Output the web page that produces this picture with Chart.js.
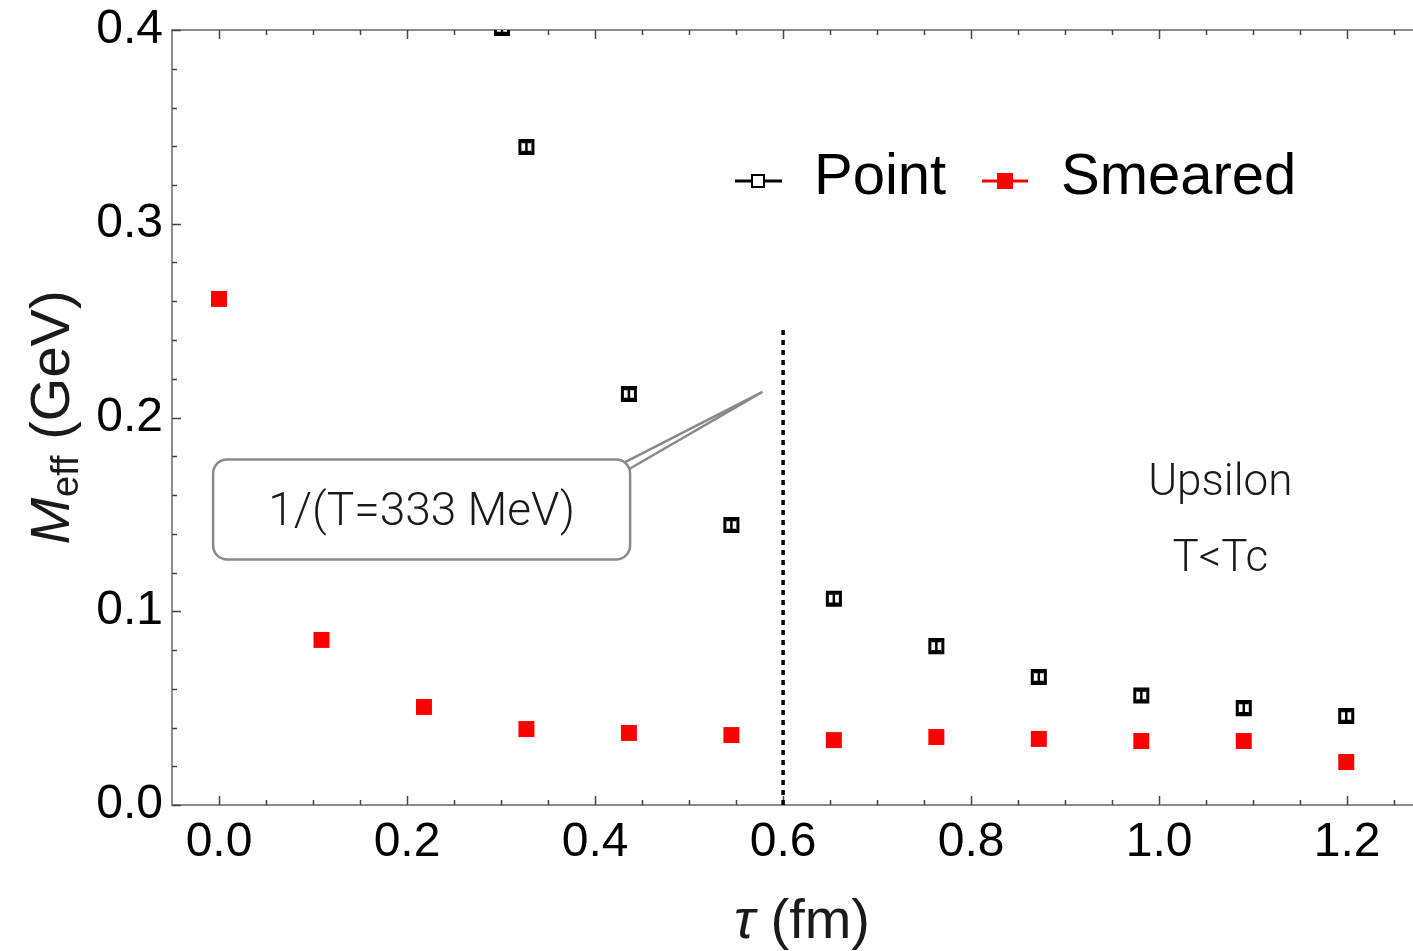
<!DOCTYPE html>
<html>
<head>
<meta charset="utf-8">
<title>Effective mass</title>
<script src="https://cdn.jsdelivr.net/npm/chart.js@4.4.1/dist/chart.umd.min.js"></script>
<style>
  html, body { margin: 0; padding: 0; background: #fff; }
  #chartSection { width: 1413px; height: 951px; }
</style>
</head>
<body>
<div id="chartSection">
  <canvas id="meffChart" width="1413" height="951"></canvas>
</div>
<script>
// Point-source correlator (open squares with error bars)
const pointTau = [0.301, 0.327, 0.436, 0.545, 0.654, 0.763, 0.872, 0.981, 1.090, 1.199];
const pointMeff = [0.401, 0.3396, 0.2121, 0.1445, 0.1065, 0.0820, 0.0661, 0.0565, 0.0500, 0.0459];
const pointErr = [0.0026, 0.0026, 0.0026, 0.0026, 0.0026, 0.0026, 0.0026, 0.0026, 0.0026, 0.0026];

// Smeared-source correlator (filled red squares)
const smearedTau = [0.000, 0.109, 0.218, 0.327, 0.436, 0.545, 0.654, 0.763, 0.872, 0.981, 1.090, 1.199];
const smearedMeff = [0.2612, 0.0852, 0.0506, 0.0392, 0.0372, 0.0361, 0.0335, 0.0351, 0.0341, 0.0330, 0.0330, 0.0222];

// 1/T marker
const inverseTemp = 0.6;
const markerTop = 0.247;

// Axis ticks
const xTickValues = [0.0, 0.2, 0.4, 0.6, 0.8, 1.0, 1.2];
const yTickValues = [0.0, 0.1, 0.2, 0.3, 0.4];
const xMinorStep = 0.05;
const yMinorStep = 0.02;

const FONT = '"Liberation Sans", Arial, Helvetica, sans-serif';
const LIGHT_FONT = 'Roboto, "Liberation Sans", Arial, sans-serif';
const FRAME_COLOR = '#8c8c8c';
const TICK_COLOR = '#444';
const RED = '#ff0000';

// Frame on left/top/bottom with inward major and minor ticks
const frameTicks = {
    id: 'frameTicks',
    beforeDatasetsDraw(chart) {
        const { ctx, chartArea: a, scales: { x, y } } = chart;
        ctx.save();
        ctx.strokeStyle = FRAME_COLOR;
        ctx.lineWidth = 2;
        ctx.beginPath();
        ctx.moveTo(a.right + 4, a.top);
        ctx.lineTo(a.left, a.top);
        ctx.lineTo(a.left, a.bottom);
        ctx.lineTo(a.right + 4, a.bottom);
        ctx.stroke();

        ctx.strokeStyle = TICK_COLOR;
        ctx.lineWidth = 1.5;
        ctx.beginPath();
        const xMinor = [];
        for (let v = x.min; v <= x.max + 1e-9; v += xMinorStep) xMinor.push(Math.round(v * 100) / 100);
        xMinor.forEach(v => {
            const major = xTickValues.some(t => Math.abs(t - v) < 1e-6);
            const len = major ? 9 : 5;
            const px = Math.round(x.getPixelForValue(v)) + 0.5;
            if (px <= a.left + 1) return;
            ctx.moveTo(px, a.bottom); ctx.lineTo(px, a.bottom - len);
            ctx.moveTo(px, a.top); ctx.lineTo(px, a.top + len);
        });
        for (let v = y.min; v <= y.max + 1e-9; v += yMinorStep) {
            const r = Math.round(v * 100) / 100;
            const major = yTickValues.some(t => Math.abs(t - r) < 1e-6);
            const len = major ? 9 : 5;
            const py = Math.round(y.getPixelForValue(r)) + 0.5;
            ctx.moveTo(a.left, py); ctx.lineTo(a.left + len, py);
        }
        ctx.stroke();
        ctx.restore();
    }
};

// Vertical error bars on the point-source data
const errorBars = {
    id: 'errorBars',
    afterDatasetsDraw(chart) {
        const { ctx, chartArea: a, scales: { x, y } } = chart;
        ctx.save();
        ctx.beginPath();
        ctx.rect(a.left, a.top, a.right - a.left, a.bottom - a.top);
        ctx.clip();
        ctx.strokeStyle = '#000';
        ctx.lineWidth = 2.5;
        pointTau.forEach((t, i) => {
            const px = x.getPixelForValue(t);
            const lo = y.getPixelForValue(pointMeff[i] - pointErr[i]);
            const hi = y.getPixelForValue(pointMeff[i] + pointErr[i]);
            ctx.beginPath();
            ctx.moveTo(px, lo); ctx.lineTo(px, hi);
            ctx.moveTo(px - 5, lo); ctx.lineTo(px + 5, lo);
            ctx.moveTo(px - 5, hi); ctx.lineTo(px + 5, hi);
            ctx.stroke();
        });
        ctx.restore();
    }
};

// Legend, callout, labels and axis titles
const overlays = {
    id: 'overlays',
    afterDraw(chart) {
        const { ctx, chartArea: a, scales: { x, y } } = chart;
        ctx.save();

        // legend
        const ly = 181;
        ctx.lineWidth = 3;
        ctx.strokeStyle = '#000';
        ctx.beginPath(); ctx.moveTo(735, ly); ctx.lineTo(782, ly); ctx.stroke();
        ctx.fillStyle = '#fff';
        ctx.fillRect(751, ly - 7, 14, 14);
        ctx.lineWidth = 2;
        ctx.strokeRect(752, ly - 6, 12, 12);
        ctx.strokeStyle = RED;
        ctx.lineWidth = 3;
        ctx.beginPath(); ctx.moveTo(982, ly); ctx.lineTo(1028, ly); ctx.stroke();
        ctx.fillStyle = RED;
        ctx.fillRect(997, ly - 8, 16, 16);
        ctx.fillStyle = '#000';
        ctx.font = '58px ' + FONT;
        ctx.textBaseline = 'alphabetic';
        ctx.textAlign = 'left';
        ctx.fillText('Point', 814, 194);
        ctx.fillText('Smeared', 1061, 194);

        // callout box with pointer toward the 1/T line
        const bx = x.getPixelForValue(0.2155), by = y.getPixelForValue(0.1525);
        const bw = 417, bh = 100;
        const tipX = x.getPixelForValue(0.578), tipY = y.getPixelForValue(0.2132);
        ctx.strokeStyle = '#8a8a8a';
        ctx.lineWidth = 2.5;
        ctx.beginPath();
        ctx.moveTo(bx + bw / 2 - 6, by - bh / 2 + 3);
        ctx.lineTo(tipX, tipY);
        ctx.lineTo(bx + bw / 2, by - bh / 2 + 9);
        ctx.stroke();
        ctx.fillStyle = '#fff';
        ctx.beginPath();
        ctx.roundRect(bx - bw / 2, by - bh / 2, bw, bh, 14);
        ctx.fill();
        ctx.stroke();
        ctx.fillStyle = '#1a1a1a';
        ctx.textAlign = 'center';
        ctx.textBaseline = 'middle';
        ctx.font = '300 46px ' + LIGHT_FONT;
        ctx.fillText('1/(T=333 MeV)', bx, by + 4);

        // channel labels
        ctx.font = '300 44px ' + LIGHT_FONT;
        ctx.fillText('Upsilon', x.getPixelForValue(1.065), y.getPixelForValue(0.1657));
        ctx.fillText('T<Tc', x.getPixelForValue(1.065), y.getPixelForValue(0.1265));

        // x title: τ (fm)
        ctx.textBaseline = 'alphabetic';
        ctx.textAlign = 'left';
        const tauFont = 'italic 56px ' + FONT;
        const restFont = '56px ' + FONT;
        ctx.font = tauFont;
        const wTau = ctx.measureText('τ').width;
        ctx.font = restFont;
        const wRest = ctx.measureText(' (fm)').width;
        let sx = 802 - (wTau + wRest) / 2;
        ctx.font = tauFont; ctx.fillText('τ', sx, 938);
        ctx.font = restFont; ctx.fillText(' (fm)', sx + wTau, 938);

        // y title: M_eff (GeV), rotated
        ctx.translate(69, 418);
        ctx.rotate(-Math.PI / 2);
        const mFont = 'italic 56px ' + FONT;
        const subFont = '38px ' + FONT;
        ctx.font = mFont; const wM = ctx.measureText('M').width;
        ctx.font = subFont; const wSub = ctx.measureText('eff').width;
        ctx.font = restFont; const wG = ctx.measureText(' (GeV)').width;
        sx = -(wM + wSub + wG) / 2;
        ctx.font = mFont; ctx.fillText('M', sx, 0);
        ctx.font = subFont; ctx.fillText('eff', sx + wM + 1, 9);
        ctx.font = restFont; ctx.fillText(' (GeV)', sx + wM + wSub + 1, 0);

        ctx.restore();
    }
};

function renderMeffChart() {
    const ctx = document.getElementById('meffChart').getContext('2d');
    const config = {
        type: 'scatter',
        data: {
            datasets: [{
                label: 'Point',
                data: pointTau.map((t, i) => ({ x: t, y: pointMeff[i] })),
                pointStyle: 'rect',
                pointRadius: 9.2,
                pointBorderWidth: 3,
                pointBackgroundColor: '#fff',
                pointBorderColor: '#000',
                clip: 0
            }, {
                label: 'Smeared',
                data: smearedTau.map((t, i) => ({ x: t, y: smearedMeff[i] })),
                pointStyle: 'rect',
                pointRadius: 11.3,
                pointBorderWidth: 0,
                pointBackgroundColor: RED,
                pointBorderColor: RED
            }, {
                label: '1/T',
                type: 'line',
                data: [{ x: inverseTemp, y: 0 }, { x: inverseTemp, y: markerTop }],
                borderColor: '#000',
                borderWidth: 3.5,
                borderDash: [5, 5],
                pointRadius: 0,
                fill: false
            }]
        },
        options: {
            responsive: false,
            animation: false,
            devicePixelRatio: 1,
            layout: { autoPadding: false, padding: { top: 30, left: 0, right: 0, bottom: 0 } },
            plugins: {
                legend: { display: false },
                tooltip: { enabled: false }
            },
            scales: {
                x: {
                    type: 'linear',
                    min: -0.05,
                    max: 1.27,
                    grid: { display: false, drawTicks: false },
                    border: { display: false },
                    afterBuildTicks: scale => { scale.ticks = xTickValues.map(v => ({ value: v })); },
                    afterFit: scale => { scale.height = 146; },
                    ticks: {
                        padding: 9,
                        maxRotation: 0,
                        autoSkip: false,
                        color: '#000',
                        font: { family: FONT, size: 48 },
                        callback: v => v.toFixed(1)
                    }
                },
                y: {
                    type: 'linear',
                    min: 0,
                    max: 0.4,
                    grid: { display: false, drawTicks: false },
                    border: { display: false },
                    afterBuildTicks: scale => { scale.ticks = yTickValues.map(v => ({ value: v })); },
                    afterFit: scale => {
                        scale.width = 172;
                        scale.paddingTop = 0;
                        scale.paddingBottom = 0;
                    },
                    ticks: {
                        padding: 9,
                        color: '#000',
                        font: { family: FONT, size: 48, lineHeight: 0.5 },
                        callback: v => v.toFixed(1)
                    }
                }
            }
        },
        plugins: [frameTicks, errorBars, overlays]
    };
    new Chart(ctx, config);
}

document.addEventListener('DOMContentLoaded', function() {
    renderMeffChart();
});
</script>
</body>
</html>
